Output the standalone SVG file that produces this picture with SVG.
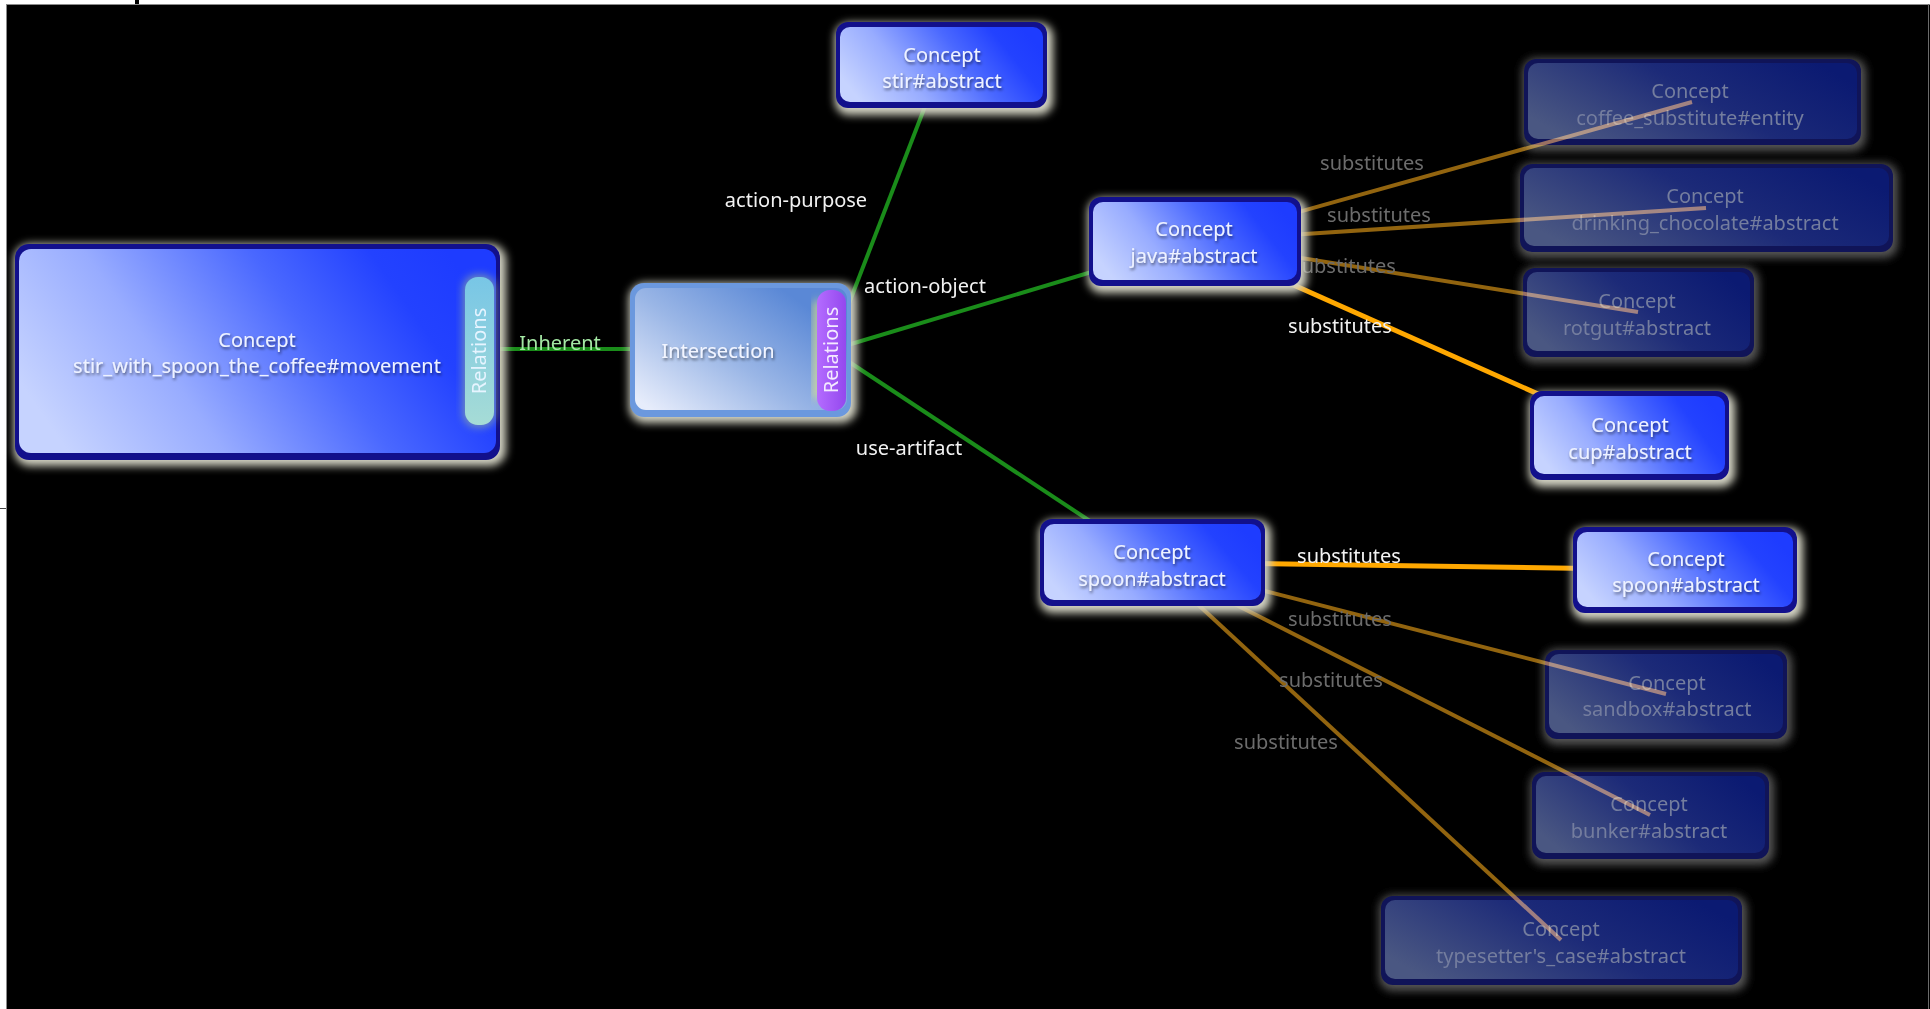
<svg xmlns="http://www.w3.org/2000/svg" width="1930" height="1009" viewBox="0 0 1930 1009">
  <defs>
    <linearGradient id="gBright" x1="0" y1="0.65" x2="1" y2="0.35">
      <stop offset="0" stop-color="#c6d3ff"/>
      <stop offset="0.3" stop-color="#98acff"/>
      <stop offset="0.62" stop-color="#4a68ff"/>
      <stop offset="0.85" stop-color="#2342ff"/>
      <stop offset="1" stop-color="#1e3cff"/>
    </linearGradient>
    <linearGradient id="gDim" x1="0" y1="0.7" x2="1" y2="0.3">
      <stop offset="0" stop-color="#4a5782"/>
      <stop offset="0.55" stop-color="#1c2a78"/>
      <stop offset="1" stop-color="#0b1a72"/>
    </linearGradient>
    <linearGradient id="gInter" x1="0" y1="0.9" x2="0.85" y2="0.2">
      <stop offset="0" stop-color="#e6ecfb"/>
      <stop offset="0.5" stop-color="#9ab6e6"/>
      <stop offset="1" stop-color="#5a88d6"/>
    </linearGradient>
    <linearGradient id="gTabCyan" x1="0" y1="0" x2="0" y2="1">
      <stop offset="0" stop-color="#78c6e6"/>
      <stop offset="1" stop-color="#a6dcd6"/>
    </linearGradient>
    <linearGradient id="gTabPurple" x1="0" y1="0" x2="1" y2="0">
      <stop offset="0" stop-color="#b46cff"/>
      <stop offset="1" stop-color="#9448ee"/>
    </linearGradient>
    <filter id="glow" x="-20%" y="-30%" width="140%" height="160%">
      <feGaussianBlur stdDeviation="4"/>
    </filter>
    <filter id="tshadow" x="-10%" y="-40%" width="120%" height="180%">
      <feDropShadow dx="1" dy="2" stdDeviation="1.6" flood-color="#000" flood-opacity="0.55"/>
    </filter>
  </defs>
  <style>
    text { font-family: "Noto Sans", "Open Sans", "DejaVu Sans", sans-serif; font-size: 20px; }
    .nt { fill: #eef2ff; text-anchor: middle; filter: url(#tshadow); }
    .dt { fill: #747d9e; text-anchor: middle; }
    .halo { fill: #d4d4c4; filter: url(#glow); }
    .dhalo { fill: #555; filter: url(#glow); }
    .frame { fill: #12108c; }
    .dframe { fill: #101458; }
    .green { stroke: #1a8c1a; stroke-width: 4; fill: none; }
    .orange { stroke: #ffa800; stroke-width: 5; fill: none; }
    .dorange { stroke: #92640f; stroke-width: 4; fill: none; mix-blend-mode: screen; }
    .lbl { fill: #f2f2f2; text-anchor: middle; }
    .dlbl { fill: #6c6c6c; text-anchor: middle; }
    .glbl { fill: #a4e8a4; text-anchor: middle; }
  </style>

  <!-- background and window frame -->
  <rect x="0" y="0" width="1930" height="1009" fill="#000"/>
  <rect x="0" y="0" width="1930" height="4" fill="#fff"/>
  <rect x="0" y="0" width="6" height="1009" fill="#fff"/>
  <line x1="6" y1="4.5" x2="1930" y2="4.5" stroke="#8a8a8a" stroke-width="1"/>
  <line x1="6.5" y1="4" x2="6.5" y2="1009" stroke="#8a8a8a" stroke-width="1"/>
  <line x1="1928.5" y1="4" x2="1928.5" y2="1009" stroke="#6a6a6a" stroke-width="1"/>
  <rect x="135" y="0" width="4" height="4" fill="#000"/>
  <rect x="0" y="508" width="6" height="1" fill="#444"/>

  <!-- faded concept nodes -->
  <g id="n-coffee-substitute">
    <rect class="dhalo" x="1522" y="58" width="344" height="93" rx="14"/>
    <rect class="dframe" x="1524" y="59" width="337" height="86" rx="12"/>
    <rect fill="url(#gDim)" x="1528" y="63" width="329" height="76" rx="10"/>
    <text class="dt" x="1690" y="98">Concept</text>
    <text class="dt" x="1690" y="125">coffee_substitute#entity</text>
  </g>
  <g id="n-drinking-chocolate">
    <rect class="dhalo" x="1518" y="163" width="380" height="95" rx="14"/>
    <rect class="dframe" x="1520" y="164" width="373" height="88" rx="12"/>
    <rect fill="url(#gDim)" x="1524" y="168" width="365" height="78" rx="10"/>
    <text class="dt" x="1705" y="203">Concept</text>
    <text class="dt" x="1705" y="230">drinking_chocolate#abstract</text>
  </g>
  <g id="n-rotgut">
    <rect class="dhalo" x="1521" y="267" width="238" height="96" rx="14"/>
    <rect class="dframe" x="1523" y="268" width="231" height="89" rx="12"/>
    <rect fill="url(#gDim)" x="1527" y="272" width="223" height="79" rx="10"/>
    <text class="dt" x="1637" y="308">Concept</text>
    <text class="dt" x="1637" y="335">rotgut#abstract</text>
  </g>
  <g id="n-sandbox">
    <rect class="dhalo" x="1543" y="649" width="249" height="96" rx="14"/>
    <rect class="dframe" x="1545" y="650" width="242" height="89" rx="12"/>
    <rect fill="url(#gDim)" x="1549" y="654" width="234" height="79" rx="10"/>
    <text class="dt" x="1667" y="690">Concept</text>
    <text class="dt" x="1667" y="716">sandbox#abstract</text>
  </g>
  <g id="n-bunker">
    <rect class="dhalo" x="1530" y="771" width="244" height="94" rx="14"/>
    <rect class="dframe" x="1532" y="772" width="237" height="87" rx="12"/>
    <rect fill="url(#gDim)" x="1536" y="776" width="229" height="77" rx="10"/>
    <text class="dt" x="1649" y="811">Concept</text>
    <text class="dt" x="1649" y="838">bunker#abstract</text>
  </g>
  <g id="n-typesetters-case">
    <rect class="dhalo" x="1379" y="895" width="368" height="96" rx="14"/>
    <rect class="dframe" x="1381" y="896" width="361" height="89" rx="12"/>
    <rect fill="url(#gDim)" x="1385" y="900" width="353" height="79" rx="10"/>
    <text class="dt" x="1561" y="936">Concept</text>
    <text class="dt" x="1561" y="963">typesetter's_case#abstract</text>
  </g>

  <!-- connectors and their labels -->
  <g id="connectors">
    <line class="green" x1="479" y1="349" x2="740" y2="349"/>
    <line class="green" x1="831" y1="350" x2="941" y2="65"/>
    <line class="green" x1="831" y1="350" x2="1195" y2="241"/>
    <line class="green" x1="831" y1="350" x2="1152" y2="562"/>

    <line class="dorange" x1="1195" y1="241" x2="1692" y2="102"/>
    <line class="dorange" x1="1195" y1="241" x2="1706" y2="208"/>
    <line class="dorange" x1="1195" y1="241" x2="1638" y2="312"/>
    <line class="orange" x1="1195" y1="241" x2="1630" y2="435"/>

    <line class="orange" x1="1152" y1="562" x2="1685" y2="570"/>
    <line class="dorange" x1="1152" y1="562" x2="1666" y2="694"/>
    <line class="dorange" x1="1152" y1="562" x2="1650" y2="815"/>
    <line class="dorange" x1="1152" y1="562" x2="1561" y2="940"/>

    <text class="glbl" x="560" y="350">Inherent</text>
    <text class="lbl" x="796" y="207">action-purpose</text>
    <text class="lbl" x="925" y="293">action-object</text>
    <text class="lbl" x="909" y="455">use-artifact</text>

    <text class="dlbl" x="1372" y="170">substitutes</text>
    <text class="dlbl" x="1379" y="222">substitutes</text>
    <text class="dlbl" x="1344" y="273">substitutes</text>
    <text class="lbl" x="1340" y="333">substitutes</text>
    <text class="lbl" x="1349" y="563">substitutes</text>
    <text class="dlbl" x="1340" y="626">substitutes</text>
    <text class="dlbl" x="1331" y="687">substitutes</text>
    <text class="dlbl" x="1286" y="749">substitutes</text>
  </g>

  <!-- main concept with its relations tab -->
  <g id="n-stir-with-spoon">
    <rect class="halo" x="14" y="244" width="492" height="222" rx="16"/>
    <rect class="frame" x="15" y="244" width="485" height="216" rx="14"/>
    <rect fill="url(#gBright)" x="19" y="249" width="477" height="204" rx="12"/>
    <rect fill="#c8e070" opacity="0.5" x="463" y="275" width="33" height="152" rx="14" filter="url(#glow)"/>
    <rect fill="url(#gTabCyan)" x="465" y="277" width="29" height="148" rx="13"/>
    <text fill="#e6f4ff" text-anchor="middle" transform="translate(486 351) rotate(-90)">Relations</text>
    <text class="nt" x="257" y="347">Concept</text>
    <text class="nt" x="257" y="373">stir_with_spoon_the_coffee#movement</text>
  </g>

  <g id="n-intersection">
    <rect class="halo" x="629" y="283" width="228" height="140" rx="16"/>
    <rect fill="#6b98de" x="630" y="283" width="221" height="134" rx="14"/>
    <rect fill="url(#gInter)" x="635" y="288" width="212" height="122" rx="11"/>
    <rect fill="#e8e880" opacity="0.7" x="813" y="300" width="10" height="100" rx="5" filter="url(#glow)"/>
    <rect fill="url(#gTabPurple)" x="817" y="290" width="29" height="121" rx="13"/>
    <text fill="#f4eaff" text-anchor="middle" transform="translate(838 350) rotate(-90)">Relations</text>
    <text fill="#f2f5ff" text-anchor="middle" filter="url(#tshadow)" x="718" y="358">Intersection</text>
  </g>

  <g id="n-stir">
    <rect class="halo" x="835" y="23" width="218" height="92" rx="14"/>
    <rect class="frame" x="836" y="22" width="211" height="86" rx="12"/>
    <rect fill="url(#gBright)" x="840" y="27" width="203" height="75" rx="10"/>
    <text class="nt" x="942" y="62">Concept</text>
    <text class="nt" x="942" y="88">stir#abstract</text>
  </g>

  <g id="n-java">
    <rect class="halo" x="1088" y="198" width="219" height="95" rx="14"/>
    <rect class="frame" x="1089" y="197" width="212" height="89" rx="12"/>
    <rect fill="url(#gBright)" x="1093" y="202" width="204" height="78" rx="10"/>
    <text class="nt" x="1194" y="236">Concept</text>
    <text class="nt" x="1194" y="263">java#abstract</text>
  </g>

  <g id="n-cup">
    <rect class="halo" x="1529" y="392" width="206" height="95" rx="14"/>
    <rect class="frame" x="1530" y="391" width="199" height="89" rx="12"/>
    <rect fill="url(#gBright)" x="1534" y="396" width="191" height="78" rx="10"/>
    <text class="nt" x="1630" y="432">Concept</text>
    <text class="nt" x="1630" y="459">cup#abstract</text>
  </g>

  <g id="n-spoon">
    <rect class="halo" x="1039" y="520" width="232" height="93" rx="14"/>
    <rect class="frame" x="1040" y="519" width="225" height="87" rx="12"/>
    <rect fill="url(#gBright)" x="1044" y="524" width="217" height="76" rx="10"/>
    <text class="nt" x="1152" y="559">Concept</text>
    <text class="nt" x="1152" y="586">spoon#abstract</text>
  </g>

  <g id="n-spoon-target">
    <rect class="halo" x="1572" y="528" width="231" height="92" rx="14"/>
    <rect class="frame" x="1573" y="527" width="224" height="86" rx="12"/>
    <rect fill="url(#gBright)" x="1577" y="532" width="216" height="75" rx="10"/>
    <text class="nt" x="1686" y="566">Concept</text>
    <text class="nt" x="1686" y="592">spoon#abstract</text>
  </g>
</svg>
